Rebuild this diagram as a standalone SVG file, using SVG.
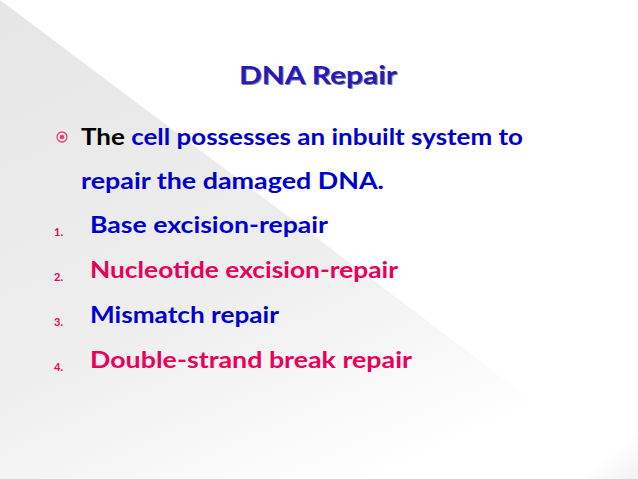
<svg xmlns="http://www.w3.org/2000/svg" width="638" height="479" viewBox="0 0 638 479">
<defs>
<linearGradient id="g" x1="0" y1="0" x2="0.6" y2="1">
<stop offset="0" stop-color="#e6e6e6"/><stop offset="0.6" stop-color="#eeeeee"/><stop offset="1" stop-color="#ffffff"/>
</linearGradient>
<linearGradient id="g2" x1="1" y1="1" x2="0.6" y2="0.6">
<stop offset="0" stop-color="#f2f2f2"/><stop offset="1" stop-color="#ffffff"/>
</linearGradient>
</defs>
<style>
text{font-family:Lato,"Open Sans",sans-serif;font-weight:bold}
.b{fill:#0000cc}.p{fill:#e8005a}
.n{font-size:11px;fill:#e8005a}
.i{font-size:22px}
</style>
<rect width="638" height="479" fill="#fff"/>
<polygon points="0,0 638,479 0,479" fill="url(#g)"/>
<polygon points="638,420 638,479 560,479" fill="url(#g2)"/>
<g id="title">
<text x="318" y="84" text-anchor="middle" font-size="25" fill="#7a7a9a" transform="translate(1,1)" textLength="158" lengthAdjust="spacingAndGlyphs">DNA Repair</text>
<text x="318" y="84" text-anchor="middle" font-size="25" fill="#2a18b8" textLength="158" lengthAdjust="spacingAndGlyphs">DNA Repair</text>
</g>
<g id="intro">
<circle cx="62" cy="137" r="5" fill="none" stroke="#e8407a" stroke-width="1.3"/>
<circle cx="62" cy="137" r="2.3" fill="#e8407a"/>
<text x="81" y="145" class="i" textLength="442" lengthAdjust="spacingAndGlyphs"><tspan fill="#000">The </tspan><tspan class="b">cell possesses an inbuilt system to</tspan></text>
<text x="81" y="189" class="i b" textLength="303" lengthAdjust="spacingAndGlyphs">repair the damaged DNA.</text>
</g>
<g id="list">
<text x="54" y="236" class="n">1.</text>
<text x="90" y="233" class="i b" textLength="238" lengthAdjust="spacingAndGlyphs">Base excision-repair</text>
<text x="54" y="281" class="n">2.</text>
<text x="90" y="278" class="i p" textLength="308" lengthAdjust="spacingAndGlyphs">Nucleotide excision-repair</text>
<text x="54" y="326" class="n">3.</text>
<text x="90" y="323" class="i b" textLength="189" lengthAdjust="spacingAndGlyphs">Mismatch repair</text>
<text x="54" y="371" class="n">4.</text>
<text x="90" y="368" class="i p" textLength="322" lengthAdjust="spacingAndGlyphs">Double-strand break repair</text>
</g>
</svg>
